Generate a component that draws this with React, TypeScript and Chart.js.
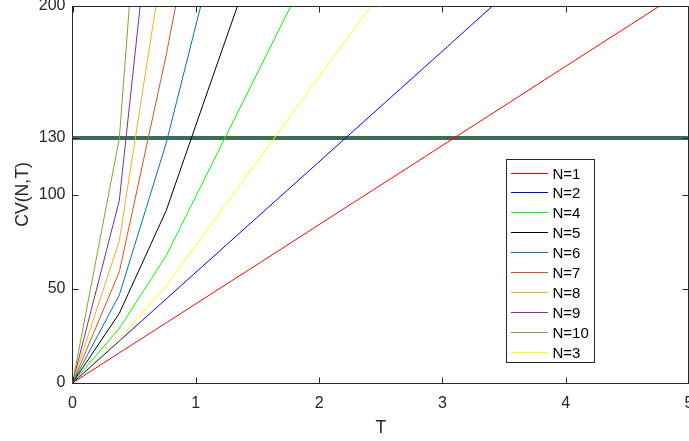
import React, { useEffect, useRef } from 'react';
import { Chart, registerables } from 'chart.js';

Chart.register(...registerables);

// ---- data ----
const T = [0, 0.38, 0.76, 1.14, 1.52, 1.9, 2.28, 2.66, 3.04, 3.42, 3.8, 4.18, 4.56, 4.94, 5.32];

const CV_N1 = [0, 16, 31.9, 47.9, 63.8, 79.8, 95.8, 111.7, 127.7, 143.6, 159.6, 175.6, 191.5, 207.5, 223.4];
const CV_N2 = [0, 22.3, 44.6, 66.9, 89.2, 111.5, 133.8, 156.1, 178.4, 200.8, 223.1];
const CV_N3 = [0, 23.5, 51.5, 85.5, 119.5, 153.5, 187.5, 221.5];
const CV_N4 = [0, 29, 67.6, 117.4, 167.2, 217];
const CV_N5 = [0, 37, 91.5, 163, 234];
const CV_N6 = [0, 46.7, 127.3, 226];
const CV_N7 = [0, 59, 174, 303];
const CV_N8 = [0, 75.5, 235];
const CV_N9 = [0, 97, 329];
const CV_N10 = [0, 130, 458];

const SERIES_LABELS = ['N=1', 'N=2', 'N=4', 'N=5', 'N=6', 'N=7', 'N=8', 'N=9', 'N=10', 'N=3'];
const SERIES_VALUES = [CV_N1, CV_N2, CV_N4, CV_N5, CV_N6, CV_N7, CV_N8, CV_N9, CV_N10, CV_N3];
const SERIES_COLORS = ['#FF0000', '#0000FF', '#00FF00', '#000000', '#0072BD', '#D95319', '#EDB120', '#7E2F8E', '#77AC30', '#FFFF00'];

const LIMIT_X = [0, 5];
const LIMIT_Y = [130, 130];

const X_TICKS = [0, 1, 2, 3, 4, 5];
const Y_TICKS = [0, 50, 100, 130, 200];

const AXIS_COLOR = '#262626';
const FONT_FAMILY = '"Liberation Sans", Arial, Helvetica, sans-serif';

const framePlugin = {
  id: 'matlabFrame',
  afterDraw(chart: any) {
    const { ctx, chartArea } = chart;
    const { left, right, top, bottom } = chartArea;
    const xs = chart.scales.x;
    const ys = chart.scales.y;
    const L = Math.floor(left) + 0.5;
    const R = Math.min(Math.floor(right) - 0.5, chart.width - 0.5);
    const Tp = Math.floor(top) + 0.5;
    const B = Math.floor(bottom) + 0.5;
    const tick = 6;
    ctx.save();
    ctx.strokeStyle = AXIS_COLOR;
    ctx.lineWidth = 1;
    ctx.beginPath();
    ctx.moveTo(L, Tp);
    ctx.lineTo(R, Tp);
    ctx.lineTo(R, B);
    ctx.stroke();
    ctx.beginPath();
    X_TICKS.forEach((v) => {
      const px = Math.round(xs.getPixelForValue(v)) + 0.5;
      ctx.moveTo(px, B);
      ctx.lineTo(px, B - tick);
      ctx.moveTo(px, Tp);
      ctx.lineTo(px, Tp + tick);
    });
    Y_TICKS.forEach((v) => {
      const py = Math.round(ys.getPixelForValue(v)) + 0.5;
      ctx.moveTo(L, py);
      ctx.lineTo(L + tick, py);
      ctx.moveTo(R, py);
      ctx.lineTo(R - tick, py);
    });
    ctx.stroke();
    ctx.restore();
  },
};

const legendPlugin = {
  id: 'boxLegend',
  afterDraw(chart: any) {
    const { ctx } = chart;
    const items = chart.data.datasets.filter((d: any) => d.label);
    const bx = 506.5;
    const by = 159.5;
    const bw = 88;
    const bh = 203;
    ctx.save();
    ctx.fillStyle = '#ffffff';
    ctx.fillRect(bx, by, bw, bh);
    ctx.strokeStyle = AXIS_COLOR;
    ctx.lineWidth = 1;
    ctx.strokeRect(bx, by, bw, bh);
    ctx.font = `15px ${FONT_FAMILY}`;
    ctx.textBaseline = 'middle';
    ctx.textAlign = 'left';
    items.forEach((d: any, i: number) => {
      const yy = Math.round(172.5 + i * 19.9) + 0.5;
      ctx.strokeStyle = d.borderColor;
      ctx.beginPath();
      ctx.moveTo(511, yy);
      ctx.lineTo(548, yy);
      ctx.stroke();
      ctx.fillStyle = '#000000';
      ctx.fillText(d.label, 552.5, yy + 1);
    });
    ctx.restore();
  },
};

export default function App() {
  const canvasRef = useRef<HTMLCanvasElement | null>(null);

  useEffect(() => {
    const canvas = canvasRef.current;
    if (!canvas) return;

    const datasets: any[] = SERIES_LABELS.map((label, i) => ({
      label,
      data: SERIES_VALUES[i].map((v, j) => ({ x: T[j], y: v })),
      borderColor: SERIES_COLORS[i],
      backgroundColor: SERIES_COLORS[i],
      borderWidth: 1,
      pointRadius: 0,
      fill: false,
      tension: 0,
    }));
    datasets.push({
      label: '',
      data: LIMIT_X.map((x, j) => ({ x, y: LIMIT_Y[j] })),
      borderColor: 'rgb(62,108,82)',
      backgroundColor: 'rgb(62,108,82)',
      borderWidth: 4,
      pointRadius: 0,
      fill: false,
      tension: 0,
    });

    const tickFont = { family: FONT_FAMILY, size: 16 };
    const titleFont = { family: FONT_FAMILY, size: 17.6 };

    const chart = new Chart(canvas, {
      type: 'line',
      data: { datasets },
      options: {
        responsive: false,
        animation: false,
        layout: { padding: { top: 6, right: 0, bottom: 0, left: 0 } },
        plugins: {
          legend: { display: false },
          tooltip: { enabled: false },
        },
        elements: { point: { radius: 0 }, line: { tension: 0 } },
        scales: {
          x: {
            type: 'linear',
            min: 0,
            max: 5,
            ticks: {
              stepSize: 1,
              color: AXIS_COLOR,
              font: tickFont,
              padding: 11,
              maxRotation: 0,
              autoSkip: false,
            },
            afterBuildTicks: (s: any) => {
              s.ticks = X_TICKS.map((v) => ({ value: v }));
            },
            grid: { display: false, drawTicks: false },
            border: { display: true, color: AXIS_COLOR, width: 1 },
            title: {
              display: true,
              text: 'T',
              color: AXIS_COLOR,
              font: titleFont,
              padding: { top: 0, bottom: 2 },
            },
            afterFit: (s: any) => {
              s.height = 58;
              s.paddingLeft = 0;
              s.paddingRight = 0;
            },
          },
          y: {
            type: 'linear',
            min: 0,
            max: 200,
            ticks: {
              color: AXIS_COLOR,
              font: tickFont,
              padding: 7,
              autoSkip: false,
            },
            afterBuildTicks: (s: any) => {
              s.ticks = Y_TICKS.map((v) => ({ value: v }));
            },
            grid: { display: false, drawTicks: false },
            border: { display: true, color: AXIS_COLOR, width: 1 },
            title: {
              display: true,
              text: 'CV(N,T)',
              color: AXIS_COLOR,
              font: titleFont,
              padding: { top: 12.5, bottom: 0 },
            },
            afterFit: (s: any) => {
              s.width = 72.5;
              s.paddingTop = 0;
              s.paddingBottom = 0;
            },
          },
        },
      } as any,
      plugins: [framePlugin, legendPlugin],
    });

    return () => {
      chart.destroy();
    };
  }, []);

  return (
    <div style={{ position: 'absolute', left: 0, top: 0, width: 689, height: 441, background: '#ffffff', overflow: 'hidden' }}>
      <canvas ref={canvasRef} width={689} height={441} style={{ display: 'block', width: 689, height: 441 }} />
    </div>
  );
}
